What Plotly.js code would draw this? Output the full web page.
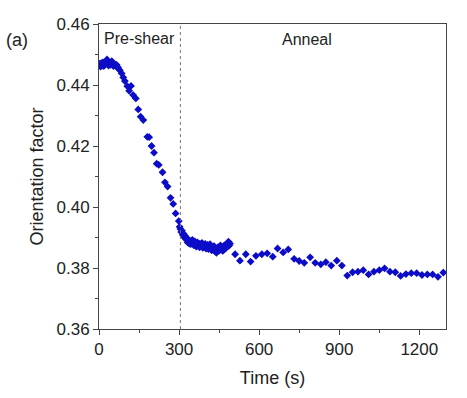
<!DOCTYPE html>
<html>
<head>
<meta charset="utf-8">
<script src="https://cdn.plot.ly/plotly-3.0.1.min.js"></script>
<style>html,body{margin:0;padding:0;background:#fff;}#chart{width:467px;height:398px;}</style>
</head>
<body>
<div id="chart"></div>
<script>
// Pre-shear: initial plateau
const tPlateau = [0,3,6,9,12,15,18,21,24,27,30,33,36,39,42,45,48,51,54,57,60,63,66,69,72];
const vPlateau = [0.4465,0.4470,0.4460,0.4472,0.4466,0.4474,0.4462,0.4470,0.4468,0.4476,0.4484,0.4470,0.4464,0.4472,0.4466,0.4470,0.4478,0.4468,0.4462,0.4470,0.4466,0.4462,0.4466,0.4460,0.4456];
// Pre-shear: decay
const tDecay = [78,85,91,97,106,113,120,128,138,147,156,166,181,188,197,206,216,224,238,247,257,268,278,287,299];
const vDecay = [0.4448,0.4438,0.4425,0.4413,0.4396,0.4381,0.4397,0.4367,0.4356,0.4320,0.4296,0.4285,0.4230,0.4229,0.4200,0.4178,0.4142,0.4138,0.4114,0.4081,0.4067,0.4030,0.4010,0.3979,0.3954];
// Anneal: dense early section
const tEarly = [302,305,308,311,314,317,320,323,326,329,332,335,338,341,344,347,350,353,356,359,362,365,368,371,374,377,380,383,386,389,392,395,398,401,404,407,410,413,416,419,422,425,428,431,434,437,440,443,446,449,452,455,458,461,464,467,470,473,476,479,482,485,488,491];
const vEarly = [0.3935,0.3928,0.3918,0.3922,0.3908,0.3912,0.3900,0.3905,0.3894,0.3898,0.3884,0.3892,0.3880,0.3889,0.3878,0.3886,0.3892,0.3880,0.3874,0.3887,0.3879,0.3870,0.3884,0.3876,0.3881,0.3868,0.3878,0.3872,0.3882,0.3866,0.3876,0.3870,0.3879,0.3864,0.3872,0.3876,0.3862,0.3870,0.3878,0.3864,0.3858,0.3868,0.3860,0.3872,0.3855,0.3864,0.3850,0.3862,0.3868,0.3856,0.3864,0.3874,0.3860,0.3868,0.3856,0.3872,0.3862,0.3876,0.3866,0.3880,0.3870,0.3886,0.3874,0.3880];
// Anneal: sparse later section
const tLate = [510,528,550,568,588,610,630,651,669,690,709,731,750,769,791,810,831,850,870,891,910,930,950,970,990,1010,1030,1050,1070,1090,1110,1130,1150,1170,1190,1210,1230,1250,1270,1290];
const vLate = [0.3845,0.3824,0.3845,0.3821,0.3840,0.3845,0.3848,0.3837,0.3864,0.3851,0.3861,0.3830,0.3823,0.3817,0.3835,0.3817,0.3812,0.3819,0.3808,0.3824,0.3808,0.3775,0.3786,0.3788,0.3793,0.3779,0.3788,0.3793,0.3799,0.3788,0.3786,0.3774,0.3780,0.3783,0.3783,0.3777,0.3779,0.3779,0.3771,0.3785];

const shearEnd = 305;
const xTicks = [0,300,600,900,1200];
const yTicks = [0.36,0.38,0.40,0.42,0.44,0.46];

const x = tPlateau.concat(tDecay, tEarly, tLate);
const y = vPlateau.concat(vDecay, vEarly, vLate);

const font = {family: 'Liberation Sans, Arial, sans-serif', color: '#222'};

const trace = {
  x: x, y: y, type: 'scatter', mode: 'markers',
  marker: {symbol: 'diamond', size: 6, color: 'rgb(12,12,200)'},
  cliponaxis: true, hoverinfo: 'skip'
};

const layout = {
  width: 467, height: 398,
  margin: {l: 99, r: 21, t: 24, b: 69},
  paper_bgcolor: '#fff', plot_bgcolor: '#fff',
  showlegend: false,
  font: Object.assign({size: 17}, font),
  xaxis: {
    range: [0, 1300], tickvals: xTicks, ticktext: xTicks.map(String),
    ticks: 'outside', ticklen: 5, tickcolor: '#444', tickwidth: 1,
    minor: {dtick: 150, tick0: 0, ticks: 'outside', ticklen: 3, tickcolor: '#444'},
    showline: true, linecolor: '#444', linewidth: 1, mirror: true,
    showgrid: false, zeroline: false,
    tickfont: Object.assign({size: 17}, font),
    title: {text: 'Time (s)', font: Object.assign({size: 18}, font), standoff: 12}
  },
  yaxis: {
    range: [0.36, 0.46], tickvals: yTicks, ticktext: yTicks.map(v => v.toFixed(2)),
    ticks: 'outside', ticklen: 5, tickcolor: '#444', tickwidth: 1,
    minor: {dtick: 0.01, tick0: 0.36, ticks: 'outside', ticklen: 3, tickcolor: '#444'},
    showline: true, linecolor: '#444', linewidth: 1, mirror: true,
    showgrid: false, zeroline: false,
    tickfont: Object.assign({size: 17}, font),
    title: {text: 'Orientation factor', font: Object.assign({size: 18}, font), standoff: 8}
  },
  shapes: [{
    type: 'line', xref: 'x', yref: 'paper', x0: shearEnd, x1: shearEnd, y0: 0, y1: 1,
    line: {color: '#777', width: 1, dash: 'dot'}
  }],
  annotations: [
    {text: 'Pre-shear', xref: 'x', yref: 'y', x: 153, y: 0.4554, showarrow: false,
     font: Object.assign({size: 16}, font), xanchor: 'center', yanchor: 'middle'},
    {text: 'Anneal', xref: 'x', yref: 'y', x: 779, y: 0.4548, showarrow: false,
     font: Object.assign({size: 16}, font), xanchor: 'center', yanchor: 'middle'},
    {text: '(a)', xref: 'paper', yref: 'paper', x: -0.236, y: 0.948, showarrow: false,
     font: Object.assign({size: 18}, font), xanchor: 'center', yanchor: 'middle'}
  ]
};

Plotly.newPlot('chart', [trace], layout, {displayModeBar: false, staticPlot: true});
</script>
</body>
</html>
